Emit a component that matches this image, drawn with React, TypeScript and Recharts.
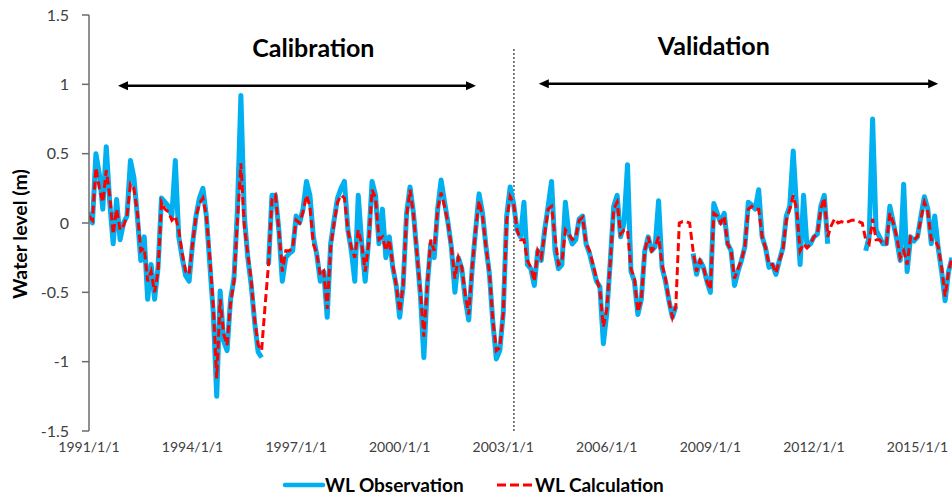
import { Line, LineChart, ReferenceDot, ReferenceLine, XAxis, YAxis } from "recharts";

const START_YEAR = 1991;
const STEP = 0.1; // one sample every tenth of a year

const xTicks = [1991, 1994, 1997, 2000, 2003, 2006, 2009, 2012, 2015];
const yTicks = [-1.5, -1, -0.5, 0, 0.5, 1, 1.5];

// Calibration period: 1991.0 .. 2003.3 (one line per year)
const obsCalibration = [
  0.08, 0.0, 0.5, 0.35, 0.1, 0.55, 0.15, -0.15, 0.17, -0.12,
  0.0, 0.05, 0.45, 0.33, 0.05, -0.27, -0.1, -0.55, -0.3, -0.55,
  -0.32, 0.18, 0.15, 0.12, 0.05, 0.45, -0.1, -0.25, -0.38, -0.42,
  -0.15, 0.05, 0.18, 0.25, 0.05, -0.3, -0.65, -1.25, -0.49, -0.85,
  -0.92, -0.55, -0.4, 0.1, 0.92, 0.05, -0.25, -0.45, -0.72, -0.93,
  -0.97, null, -0.3, 0.2, 0.2, -0.05, -0.42, -0.25, -0.22, -0.2,
  0.05, 0.0, 0.1, 0.3, 0.2, -0.1, -0.23, -0.42, -0.35, -0.68,
  -0.15, 0.02, 0.18, 0.25, 0.3, -0.05, -0.2, -0.42, 0.2, -0.15,
  -0.42, -0.13, 0.3, 0.2, -0.15, 0.1, -0.25, -0.1, -0.32, -0.45,
  -0.68, -0.45, 0.07, 0.26, 0.07, -0.22, -0.52, -0.97, -0.45, -0.15,
  -0.25, 0.1, 0.31, 0.15, 0.0, -0.18, -0.5, -0.25, -0.33, -0.55,
  -0.7, -0.33, -0.05, 0.21, 0.07, -0.17, -0.37, -0.72, -0.98, -0.92,
  -0.65, 0.05, 0.26, 0.14,
];

const calcCalibration = [
  0.05, 0.02, 0.4, 0.25, 0.15, 0.38, 0.2, -0.08, 0.1, -0.05,
  -0.02, 0.05, 0.28, 0.25, 0.08, -0.2, -0.18, -0.42, -0.35, -0.5,
  -0.35, 0.15, 0.1, 0.08, 0.02, 0.05, -0.05, -0.22, -0.35, -0.37,
  -0.15, 0.05, 0.14, 0.18, 0.05, -0.25, -0.6, -1.12, -0.55, -0.8,
  -0.88, -0.58, -0.42, 0.02, 0.43, -0.02, -0.22, -0.42, -0.7, -0.88,
  -0.92, -0.6, -0.3, 0.17, 0.2, -0.05, -0.35, -0.2, -0.2, -0.18,
  0.02, 0.0, 0.08, 0.2, 0.12, -0.15, -0.22, -0.38, -0.35, -0.62,
  -0.18, 0.0, 0.15, 0.2, 0.18, -0.05, -0.18, -0.25, -0.05, -0.15,
  -0.35, -0.15, 0.24, 0.18, -0.12, -0.1, -0.2, -0.12, -0.3, -0.45,
  -0.64, -0.45, 0.05, 0.24, 0.06, -0.22, -0.5, -0.82, -0.45, -0.12,
  -0.2, 0.1, 0.22, 0.12, 0.0, -0.18, -0.4, -0.25, -0.32, -0.52,
  -0.66, -0.32, -0.05, 0.16, 0.05, -0.17, -0.36, -0.7, -0.92, -0.9,
  -0.65, 0.02, 0.19, 0.14,
];

// Validation period: 2003.4 .. 2016.0
const obsValidation = [
  -0.05, -0.1, 0.15, -0.3, -0.33, -0.45,
  -0.2, -0.27, -0.05, 0.12, 0.3, -0.2, -0.33, -0.3, 0.15, -0.08,
  -0.15, -0.12, 0.03, 0.05, -0.15, -0.22, -0.32, -0.42, -0.46, -0.87,
  -0.65, -0.28, 0.12, 0.2, -0.1, 0.0, 0.42, -0.35, -0.42, -0.66,
  -0.55, -0.2, -0.1, -0.2, -0.17, 0.16, -0.32, -0.42, -0.56, -0.68,
  -0.6, null, null, null, null, -0.22, -0.37, -0.27, -0.32, -0.42,
  -0.5, 0.14, 0.07, 0.0, 0.07, -0.15, -0.2, -0.45, -0.35, -0.27,
  -0.17, 0.15, 0.13, 0.1, 0.24, -0.1, -0.18, -0.32, -0.3, -0.37,
  -0.27, -0.18, 0.05, 0.12, 0.52, 0.1, -0.3, 0.2, -0.17, -0.15,
  -0.1, -0.08, 0.12, 0.2, -0.15, null, null, null, null, null,
  null, null, null, null, null, -0.2, -0.1, 0.75, -0.05, -0.1,
  -0.15, -0.15, 0.12, 0.0, -0.12, -0.27, 0.28, -0.35, -0.1, -0.13,
  -0.1, 0.05, 0.19, 0.1, -0.15, 0.05, -0.18, -0.35, -0.56, -0.35,
  -0.25,
];

const calcValidation = [
  -0.05, -0.12, -0.12, -0.27, -0.32, -0.42,
  -0.2, -0.25, -0.08, 0.1, 0.12, -0.1, -0.3, -0.28, -0.05, -0.08,
  -0.12, -0.1, 0.02, 0.04, -0.15, -0.2, -0.3, -0.4, -0.48, -0.75,
  -0.62, -0.28, 0.1, 0.15, -0.08, -0.05, -0.05, -0.33, -0.4, -0.64,
  -0.55, -0.2, -0.1, -0.2, -0.17, -0.1, -0.3, -0.4, -0.56, -0.68,
  -0.6, 0.0, 0.01, 0.01, 0.0, -0.2, -0.35, -0.27, -0.32, -0.42,
  -0.48, 0.07, 0.05, 0.0, 0.05, -0.15, -0.2, -0.4, -0.33, -0.27,
  -0.17, 0.1, 0.12, 0.1, 0.1, -0.1, -0.18, -0.3, -0.3, -0.36,
  -0.27, -0.2, 0.02, 0.1, 0.2, 0.1, -0.2, -0.15, -0.18, -0.15,
  -0.1, -0.08, 0.1, 0.18, -0.1, -0.02, 0.03, 0.0, 0.01, 0.0,
  0.01, 0.02, 0.02, 0.01, 0.0, -0.12, -0.15, 0.03, -0.12, -0.12,
  -0.15, -0.15, 0.07, 0.0, -0.1, -0.25, -0.2, -0.3, -0.1, -0.12,
  -0.1, 0.03, 0.15, 0.08, -0.12, -0.12, -0.17, -0.32, -0.53, -0.35,
  -0.25,
];

const obsAll = [...obsCalibration, ...obsValidation];
const calcAll = [...calcCalibration, ...calcValidation];
const rows = obsAll.map((v, i) => ({
  t: +(START_YEAR + i * STEP).toFixed(2),
  obs: v,
  calc: calcAll[i],
}));

const FONT = "Lato, 'Open Sans', sans-serif";

function Arrow(props: any) {
  const { x1, y1, x2, y2 } = props;
  const head = 10;
  const half = 4.5;
  return (
    <g>
      <line x1={x1 + head - 1} y1={y1} x2={x2 - head + 1} y2={y2} stroke="#000" strokeWidth={2.5} />
      <polygon points={`${x1},${y1} ${x1 + head},${y1 - half} ${x1 + head},${y1 + half}`} fill="#000" />
      <polygon points={`${x2},${y2} ${x2 - head},${y2 - half} ${x2 - head},${y2 + half}`} fill="#000" />
    </g>
  );
}

// text is placed on its baseline
const title = (text: string) => (p: any) => (
  <text x={p.cx} y={p.cy} textAnchor="middle" fontFamily={FONT} fontWeight={700} fontSize={25} fill="#000">
    {text}
  </text>
);

export default function App() {
  return (
    <div style={{ position: "absolute", left: 0, top: 0, width: 952, height: 497, background: "#fff" }}>
      <LineChart width={952} height={497} data={rows} margin={{ top: 15, right: 0, left: 0, bottom: 0 }}>
        <XAxis
          dataKey="t"
          type="number"
          domain={[1991, 2016]}
          ticks={xTicks}
          allowDataOverflow
          tickFormatter={(y: number) => `${y}/1/1`}
          height={66}
          axisLine={false}
          tickLine={false}
          tickSize={4}
          tickMargin={7}
          tick={{ fontSize: 14, fill: "#404040", fontFamily: FONT }}
        />
        <YAxis
          type="number"
          domain={[-1.5, 1.5]}
          ticks={yTicks}
          width={89}
          tickSize={7}
          tickMargin={13}
          axisLine={{ stroke: "#6b6b6b", strokeWidth: 1.5 }}
          tickLine={{ stroke: "#6b6b6b", strokeWidth: 1.5 }}
          tick={{ fontSize: 16, fill: "#404040", fontFamily: FONT }}
          label={{
            content: () => (
              <text
                transform="translate(19, 234) rotate(-90)"
                textAnchor="middle"
                dominantBaseline="central"
                fontFamily={FONT}
                fontWeight={700}
                fontSize={19.5}
                fill="#000"
              >
                Water level (m)
              </text>
            ),
          }}
        />
        <ReferenceLine
          segment={[{ x: 2003.31, y: -1.5 }, { x: 2003.31, y: 1.26 }]}
          stroke="#000"
          strokeWidth={1}
          strokeDasharray="2 2"
        />
        <ReferenceLine segment={[{ x: 1991.84, y: 0.99 }, { x: 2002.21, y: 0.99 }]} shape={Arrow} />
        <ReferenceLine segment={[{ x: 2004.03, y: 1.005 }, { x: 2015.6, y: 1.005 }]} shape={Arrow} />
        <ReferenceDot x={1997.5} y={1.197} r={0} shape={title("Calibration")} />
        <ReferenceDot x={2009.1} y={1.212} r={0} shape={title("Validation")} />
        <Line
          type="linear"
          dataKey="obs"
          stroke="#00B0F0"
          strokeWidth={5}
          strokeLinejoin="round"
          dot={false}
          isAnimationActive={false}
        />
        <Line
          type="linear"
          dataKey="calc"
          stroke="#FF0000"
          strokeWidth={3}
          strokeDasharray="8 4"
          dot={false}
          isAnimationActive={false}
        />
      </LineChart>
      <svg width={952} height={30} style={{ position: "absolute", left: 0, top: 470 }} fontFamily={FONT}>
        <line x1={285} y1={15} x2={323} y2={15} stroke="#00B0F0" strokeWidth={4.5} strokeLinecap="round" />
        <text x={325} y={22} fontWeight={700} fontSize={19} fill="#000">
          WL Observation
        </text>
        <line x1={497} y1={15} x2={532} y2={15} stroke="#FF0000" strokeWidth={3} strokeDasharray="9 4" />
        <text x={535} y={22} fontWeight={700} fontSize={19} fill="#000">
          WL Calculation
        </text>
      </svg>
    </div>
  );
}
